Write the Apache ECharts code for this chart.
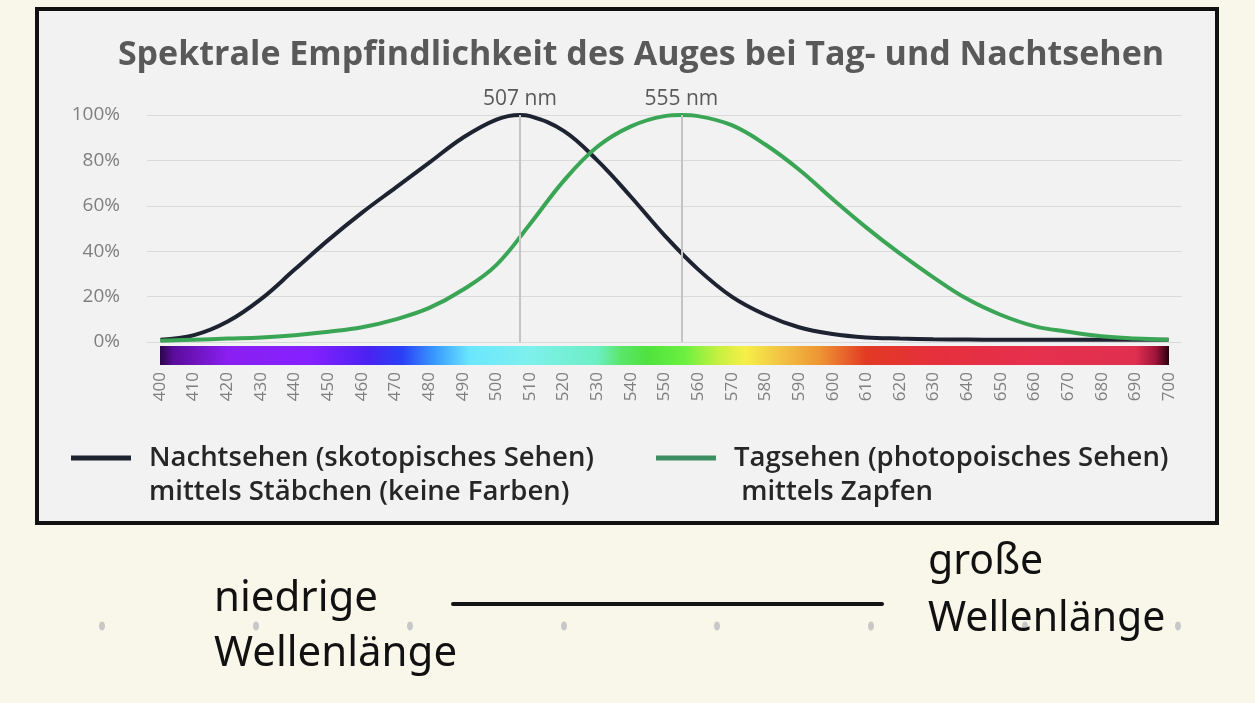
<!DOCTYPE html>
<html>
<head>
<meta charset="utf-8">
<script src="https://cdn.jsdelivr.net/npm/echarts@6/dist/echarts.min.js"></script>
<style>
  html, body { margin: 0; padding: 0; background: #f9f7ea; }
  #chart { width: 1255px; height: 703px; }
</style>
</head>
<body>
<div id="chart"></div>
<script>
// scotopic (night) curve, wavelength in nm / sensitivity in %
const nightNm  = [400, 410, 420, 430, 440, 450, 460, 470, 480, 490, 500, 507, 510, 520, 530, 540, 550, 560, 570, 580, 590, 600, 610, 620, 630, 640, 650, 660, 670, 680, 690, 700];
const nightPct = [1, 3, 9, 19, 32, 45, 57, 68, 79, 90, 98, 100, 99.5, 93, 80, 64, 47, 32, 20, 12, 6.5, 3.5, 2, 1.5, 1.2, 1.1, 1, 1, 1, 1, 1, 1];

// photopic (day) curve
const dayNm  = [400, 410, 420, 430, 440, 450, 460, 470, 480, 490, 500, 510, 520, 530, 540, 550, 555, 560, 570, 580, 590, 600, 610, 620, 630, 640, 650, 660, 670, 680, 690, 700];
const dayPct = [0.5, 1, 1.5, 2, 3, 4.5, 6.5, 10, 15, 23, 34, 52, 71, 86, 95, 99.5, 100, 99.5, 95.5, 87, 76, 63, 50.5, 39, 28.5, 19, 12, 7, 4.5, 2.5, 1.5, 1];

const peaks = [507, 555];
const yTicks = [0, 20, 40, 60, 80, 100];

// colour stops of the spectrum strip [nm, colour]
const spectrumStops = [
    [400, '#2a0648'], [404, '#5a0c9c'], [420, '#8a1ff0'], [445, '#8520ff'],
    [462, '#4a22f2'], [472, '#2a40f6'], [482, '#3a9cff'], [492, '#6ae6ff'],
    [510, '#7ef0ec'], [530, '#6cefc4'], [537, '#5ae66a'], [545, '#4fe23e'],
    [556, '#6cf040'], [566, '#c6f040'], [574, '#f6ef48'], [584, '#f3c544'],
    [596, '#ee9634'], [610, '#e23a24'], [630, '#e62f3c'], [660, '#e6304e'],
    [690, '#e03050'], [696, '#a0143a'], [700, '#2a0010']
];

const nameNight = 'Nachtsehen (skotopisches Sehen)\nmittels Stäbchen (keine Farben)';
const nameDay = 'Tagsehen (photopoisches Sehen)\n mittels Zapfen';

const chart = echarts.init(document.getElementById('chart'));

const pair = (xs, ys) => xs.map((x, i) => [x, ys[i]]);

const legendText = {
    color: '#262626',
    fontSize: 27.5,
    fontWeight: 600,
    fontFamily: 'Open Sans',
    lineHeight: 34,
    padding: [0, 0, 0, 13]
};

// empty first line keeps the icon level with the first text line
const legendFormatter = name => '\n' + name;

const option = {
    backgroundColor: '#f9f7ea',
    animation: false,
    title: {
        text: 'Spektrale Empfindlichkeit des Auges bei Tag- und Nachtsehen',
        left: 636,
        textAlign: 'center',
        top: 33,
        textStyle: {
            color: '#595959',
            fontSize: 34,
            fontWeight: 'bold',
            fontFamily: 'Open Sans'
        }
    },
    graphic: [
        {
            type: 'rect', z: -10, silent: true,
            shape: { x: 37, y: 9, width: 1180, height: 514 },
            style: { fill: '#f2f2f2', stroke: '#111', lineWidth: 4 }
        },
        {
            type: 'line', silent: true,
            shape: { x1: 453, y1: 604, x2: 882, y2: 604 },
            style: { stroke: '#141414', lineWidth: 4, lineCap: 'round' }
        },
        ...[102, 256, 410, 564, 717, 871, 1025, 1178].map(x => ({
            type: 'ellipse', silent: true, z: -5,
            shape: { cx: x, cy: 626, rx: 3, ry: 4.5 },
            style: { fill: '#c8c8c8' }
        })),
        {
            type: 'text', silent: true, left: 214, top: 572,
            style: { text: 'niedrige\nWellenlänge', fill: '#111', font: '42px "Noto Sans"', lineHeight: 55 }
        },
        {
            type: 'text', silent: true, left: 928, top: 534,
            style: { text: 'große\nWellenlänge', fill: '#111', font: '41px "Noto Sans"', lineHeight: 57 }
        }
    ],
    legend: [
        {
            left: 66, top: 402, itemWidth: 60, itemHeight: 5, icon: 'rect',
            data: [{ name: nameNight, itemStyle: { color: '#1e2332' } }],
            formatter: legendFormatter, itemGap: 0,
            textStyle: legendText, selectedMode: false
        },
        {
            left: 651, top: 402, itemWidth: 60, itemHeight: 5, icon: 'rect',
            data: [{ name: nameDay, itemStyle: { color: '#3d8f62' } }],
            formatter: legendFormatter, itemGap: 0,
            textStyle: legendText, selectedMode: false
        }
    ],
    grid: [
        { left: 147, right: 73, top: 115, height: 227 },
        { left: 160, right: 86, top: 346, height: 19 }
    ],
    xAxis: [
        { gridIndex: 0, type: 'value', min: 396, max: 704, show: false },
        {
            gridIndex: 1, type: 'value', min: 400, max: 700, interval: 10,
            axisLine: { show: false }, axisTick: { show: false }, splitLine: { show: false },
            axisLabel: { rotate: 90, color: '#7f7f7f', fontSize: 17, margin: 7, fontFamily: 'Open Sans' }
        }
    ],
    yAxis: [
        {
            gridIndex: 0, type: 'value', min: yTicks[0], max: yTicks[yTicks.length - 1], interval: 20,
            axisLine: { show: false }, axisTick: { show: false },
            splitLine: { lineStyle: { color: '#d9d9d9', width: 1 } },
            axisLabel: { formatter: '{value}%', color: '#7f7f7f', fontSize: 19, margin: 27, fontFamily: 'Open Sans' }
        },
        { gridIndex: 1, type: 'value', min: 0, max: 1, show: false }
    ],
    series: [
        {
            name: 'peaks', type: 'line', xAxisIndex: 0, yAxisIndex: 0, data: [], z: 1,
            markLine: {
                silent: true, symbol: 'none', animation: false,
                lineStyle: { color: '#c4c4c4', width: 2, type: 'solid' },
                label: { position: 'end', formatter: p => p.value + ' nm', color: '#595959', fontSize: 21, fontFamily: 'Open Sans', distance: 5 },
                data: peaks.map(p => ({ xAxis: p }))
            }
        },
        {
            name: nameNight, type: 'line', xAxisIndex: 0, yAxisIndex: 0, z: 3,
            data: pair(nightNm, nightPct), smooth: 0.4, showSymbol: false,
            lineStyle: { color: '#1e2332', width: 4 }, itemStyle: { color: '#1e2332' }
        },
        {
            name: nameDay, type: 'line', xAxisIndex: 0, yAxisIndex: 0, z: 4,
            data: pair(dayNm, dayPct), smooth: 0.4, showSymbol: false,
            lineStyle: { color: '#3aa655', width: 4 }, itemStyle: { color: '#3aa655' }
        },
        {
            name: 'spectrum', type: 'line', xAxisIndex: 1, yAxisIndex: 1, data: [],
            markArea: {
                silent: true,
                itemStyle: {
                    color: new echarts.graphic.LinearGradient(0, 0, 1, 0,
                        spectrumStops.map(([nm, c]) => ({ offset: (nm - 400) / 300, color: c })))
                },
                data: [[{ xAxis: 400, yAxis: 0 }, { xAxis: 700, yAxis: 1 }]]
            }
        }
    ]
};

chart.setOption(option);
</script>
</body>
</html>
